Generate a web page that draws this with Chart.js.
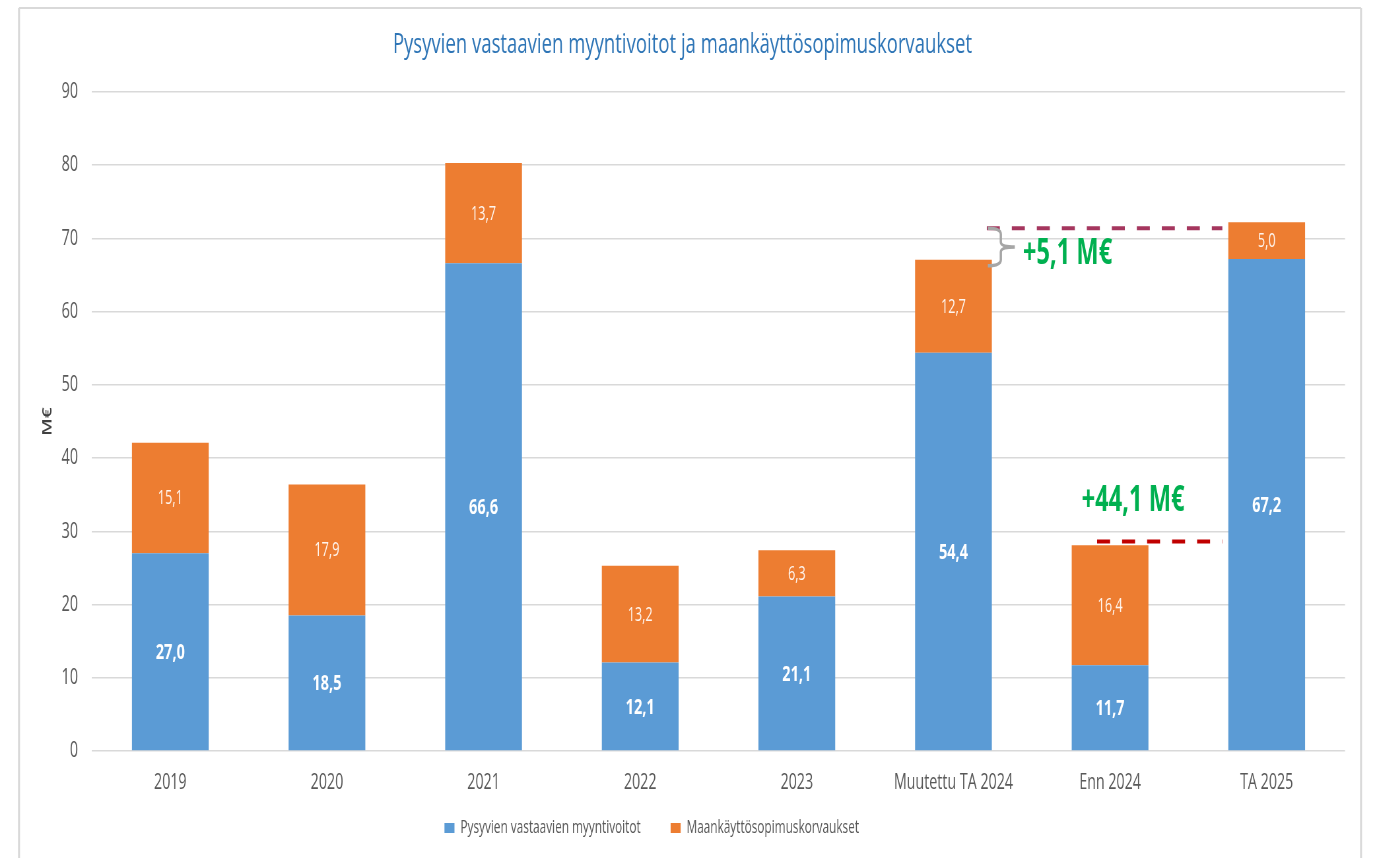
<!DOCTYPE html>
<html><head><meta charset="utf-8">
<script src="https://cdn.jsdelivr.net/npm/chart.js@4.4.1/dist/chart.umd.min.js"></script>
<style>
html,body{margin:0;padding:0;background:#fff;overflow:hidden;width:1373px;height:858px}
#wrap{position:absolute;left:0;top:0;width:2080px;height:858px;transform:scaleX(0.66010);transform-origin:0 0}
</style>
</head><body><div id="wrap"><canvas id="c" width="2080" height="858" style="width:2080px;height:858px"></canvas></div>
<script>
const categories = ['2019', '2020', '2021', '2022', '2023', 'Muutettu TA 2024', 'Enn 2024', 'TA 2025'];
const salesGains = [27.0, 18.5, 66.6, 12.1, 21.1, 54.4, 11.7, 67.2];
const landUseCompensations = [15.1, 17.9, 13.7, 13.2, 6.3, 12.7, 16.4, 5.0];
const yTickValues = [0, 10, 20, 30, 40, 50, 60, 70, 80, 90];
const seriesNames = ['Pysyvien vastaavien myyntivoitot', 'Maankäyttösopimuskorvaukset'];
const titleText = 'Pysyvien vastaavien myyntivoitot ja maankäyttösopimuskorvaukset';
const yAxisTitle = 'M€';
const gapLabels = ['+5,1 M€', '+44,1 M€'];
const gapLineValues = [71.4, 28.6];

// The chart is drawn on a wider canvas and compressed horizontally (condensed text look)
const K = 1373 / 2080;
const X = v => v / K;
const FAM = '"Open Sans", "DejaVu Sans", sans-serif';
const mctx = document.createElement('canvas').getContext('2d');
function textW(text, size, weight) {
  mctx.font = (weight || 'normal') + ' ' + size + 'px ' + FAM;
  return mctx.measureText(text).width;
}
function fitSize(text, width, weight) {
  return Math.round(100 * X(width) / textW(text, 100, weight) * 10) / 10;
}
const S = {
  title: fitSize(titleText, 580),
  tick: fitSize('Muutettu TA 2024', 119),
  ytick: fitSize('90', 16.5),
  legend: fitSize(seriesNames[0], 180),
  blueLbl: fitSize('27,0', 29, 'bold'),
  orangeLbl: fitSize('15,1', 25),
  gap: fitSize('+44,1 M€', 103, 'bold'),
  ytitle: 19
};
const fmt = v => v.toFixed(1).replace('.', ',');

// layout numbers (target plot area: y 91..751, x 92..1345 in screen pixels)
const titlePadTop = 45 - 0.6 * S.title;
const titlePadBottom = 91 - 45 - 0.6 * S.title + 1;
const tickPad = 32 - 0.6 * S.tick;
const xAxisH = tickPad + 1.2 * S.tick + 1;
const legendTop = 751 + xAxisH;
const legendPadding = 828 - legendTop - 0.5 * S.legend;
const legendH = S.legend + legendPadding + 10;
const bottomPad = 858 - legendTop - legendH;
// extra gap between the two legend entries (reference spacing ~30px on screen)
const nbsp = '\u00A0';
const nbspW = textW(nbsp, S.legend);
const midSpacer = nbsp.repeat(Math.max(0, Math.round((X(30) - legendPadding) / nbspW)));
// reference legend sits a little left of centre
const endSpacer = nbsp.repeat(Math.max(0, Math.round(X(60) / nbspW)));

const framePlugin = {
  id: 'frame',
  beforeDraw(chart) {
    const ctx = chart.ctx;
    ctx.save();
    ctx.fillStyle = '#fff';
    ctx.fillRect(0, 0, chart.width, chart.height);
    ctx.strokeStyle = '#D9D9D9';
    ctx.lineWidth = 2;
    ctx.beginPath(); ctx.moveTo(X(19), 8); ctx.lineTo(X(1361), 8); ctx.stroke();
    ctx.lineWidth = 3;
    ctx.beginPath(); ctx.moveTo(X(19), 8); ctx.lineTo(X(19), 900); ctx.stroke();
    ctx.beginPath(); ctx.moveTo(X(1361), 8); ctx.lineTo(X(1361), 900); ctx.stroke();
    ctx.restore();
  }
};

const labelPlugin = {
  id: 'segLabels',
  afterDatasetsDraw(chart) {
    const ctx = chart.ctx;
    ctx.save();
    ctx.textAlign = 'center';
    ctx.textBaseline = 'middle';
    chart.data.datasets.forEach((ds, di) => {
      const meta = chart.getDatasetMeta(di);
      ctx.font = (di === 0 ? 'bold ' + S.blueLbl : 'normal ' + S.orangeLbl) + 'px ' + FAM;
      ctx.fillStyle = di === 0 ? '#FFFFFF' : '#FFF5EE';
      meta.data.forEach((el, i) => {
        const p = el.getProps(['x', 'y', 'base'], true);
        ctx.fillText(fmt(ds.data[i]), p.x, (p.y + p.base) / 2 + 1);
      });
    });
    ctx.restore();
  }
};

const annotPlugin = {
  id: 'annot',
  afterDraw(chart) {
    const ctx = chart.ctx;
    const y = chart.scales.y;
    const meta = chart.getDatasetMeta(1);
    const b5 = meta.data[5].getProps(['x', 'y', 'width'], true);
    const b6 = meta.data[6].getProps(['x', 'y', 'width'], true);
    const b7 = meta.data[7].getProps(['x', 'y', 'width'], true);
    const y1 = y.getPixelForValue(gapLineValues[0]);
    const y2 = y.getPixelForValue(gapLineValues[1]);
    const b5r = b5.x + b5.width / 2;
    const b7l = b7.x - b7.width / 2;
    ctx.save();
    ctx.lineWidth = 4;
    ctx.setLineDash([X(13), X(12)]);
    ctx.strokeStyle = '#A5365E';
    ctx.beginPath(); ctx.moveTo(b5r - X(5), y1); ctx.lineTo(b7l - X(6), y1); ctx.stroke();
    ctx.strokeStyle = '#C00000';
    ctx.beginPath(); ctx.moveTo(b6.x - X(13), y2); ctx.lineTo(b7l - X(6), y2); ctx.stroke();
    ctx.setLineDash([]);
    // curly bracket
    const x0 = b5r - X(4), xv = x0 + X(13), xt = x0 + X(27);
    const top = y1, bot = b5.y + 6, mid = (top + bot) / 2;
    ctx.strokeStyle = '#A6A6A6';
    ctx.lineWidth = 3.5;
    ctx.beginPath();
    ctx.moveTo(x0, top);
    ctx.quadraticCurveTo(xv, top, xv, top + 6);
    ctx.lineTo(xv, mid - 5);
    ctx.quadraticCurveTo(xv, mid, xt, mid);
    ctx.moveTo(xt, mid);
    ctx.quadraticCurveTo(xv, mid, xv, mid + 5);
    ctx.lineTo(xv, bot - 6);
    ctx.quadraticCurveTo(xv, bot, x0, bot);
    ctx.stroke();
    // texts
    ctx.fillStyle = '#00B050';
    ctx.font = 'bold ' + S.gap + 'px ' + FAM;
    ctx.textBaseline = 'middle';
    ctx.textAlign = 'left';
    ctx.fillText(gapLabels[0], b5r + X(31), mid + 7);
    ctx.textAlign = 'center';
    ctx.fillText(gapLabels[1], b6.x + X(23), y2 - 41);
    ctx.restore();
  }
};

new Chart(document.getElementById('c'), {
  type: 'bar',
  data: {
    labels: categories,
    datasets: [
      { label: seriesNames[0], data: salesGains, backgroundColor: '#5B9BD5', borderWidth: 0, categoryPercentage: 1, barPercentage: 0.49 },
      { label: seriesNames[1], data: landUseCompensations, backgroundColor: '#ED7D31', borderWidth: 0, categoryPercentage: 1, barPercentage: 0.49 }
    ]
  },
  options: {
    responsive: false,
    animation: false,
    devicePixelRatio: 1,
    layout: { padding: { left: 30, right: X(1373 - 1345), top: 0, bottom: bottomPad } },
    plugins: {
      tooltip: { enabled: false },
      title: {
        display: true, text: titleText, color: '#2E75B6',
        font: { family: FAM, size: S.title, weight: 'normal', lineHeight: 1.2 },
        padding: { top: titlePadTop, bottom: titlePadBottom }
      },
      legend: {
        position: 'bottom',
        labels: {
          color: '#595959', boxWidth: X(10), boxHeight: 10, padding: legendPadding,
          font: { family: FAM, size: S.legend },
          generateLabels: chart => {
            const items = Chart.defaults.plugins.legend.labels.generateLabels(chart);
            items.forEach((it, i) => { it.text = it.text + (i < items.length - 1 ? midSpacer : endSpacer); });
            return items;
          }
        }
      }
    },
    scales: {
      x: {
        stacked: true,
        grid: { display: false, drawTicks: false },
        border: { display: false },
        ticks: { color: '#595959', padding: tickPad, maxRotation: 0, autoSkip: false, font: { family: FAM, size: S.tick } },
        afterFit: s => { s.height = xAxisH; }
      },
      y: {
        stacked: true, min: 0, max: 90,
        afterBuildTicks: s => { s.ticks = yTickValues.map(v => ({ value: v })); },
        grid: { color: '#D9D9D9', lineWidth: 1.5, drawTicks: false },
        border: { display: false },
        ticks: { color: '#595959', padding: X(14), font: { family: FAM, size: S.ytick } },
        title: { display: true, text: yAxisTitle, color: '#404040', padding: { top: X(48) - 30 - 0.6 * S.ytitle, bottom: 0 }, font: { family: FAM, size: S.ytitle, weight: '600' } },
        afterFit: s => { s.width = X(92) - 30; }
      }
    }
  },
  plugins: [framePlugin, labelPlugin, annotPlugin]
});
</script>
</body></html>
